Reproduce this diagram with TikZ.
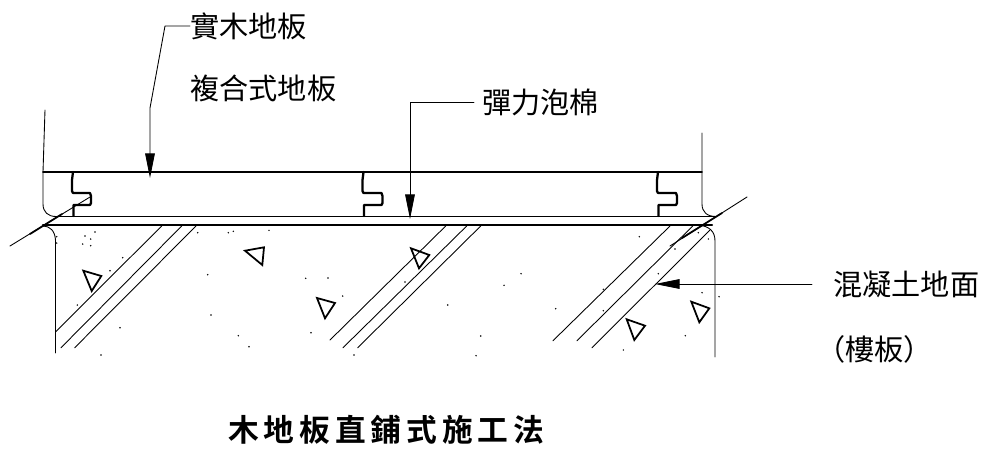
\documentclass[tikz,border=0pt]{standalone}
\usepackage{fontspec}
\usetikzlibrary{arrows.meta}
\newfontfamily\labelfont{Noto Sans CJK TC}
\newfontfamily\titlefont[LetterSpace=16]{Noto Sans CJK TC Bold}
\tikzset{
  thinline/.style={line width=.5pt},
  boardline/.style={line width=1pt},
  jointline/.style={line width=1.3pt,line join=round},
  leader/.style={line width=.5pt,-{Triangle[length=14pt,width=5.5pt]}},
  stone/.style={line width=1pt,line join=miter},
  callout/.style={font=\labelfont\fontsize{16.6}{20}\selectfont,inner sep=0pt,anchor=west},
  heading/.style={font=\titlefont\fontsize{17.5}{20}\selectfont,inner sep=0pt,anchor=west}
}
\begin{document}
\begin{tikzpicture}[x=.02cm,y=-.02cm,line join=round,line cap=round]
  \useasboundingbox (0,0) rectangle (982,450);
  % wood floor
  \draw[thinline] (45,110)--(43,172);
  \draw[boardline] (43,172)--(702,172);
  \draw[thinline] (43,172)--(43,204) .. controls (43,212) and (48,216.5) .. (56,216.5);
  \draw[boardline] (56,216.5)--(716,216.5);
  \draw[thinline] (702,133)--(702,204) .. controls (702,212) and (707,216.5) .. (716,216.5);
  \draw[line width=1.2pt] (43,225)--(712,225);
  % tongue and groove
  \foreach \jx/\tw in {73/18,363.5/19,658/19}
    \draw[jointline] (\jx,172)--(\jx-1,180)--(\jx-1,191)--(\jx,193)--(\jx+\tw-1,193)--(\jx+\tw,196)--(\jx+\tw,203)--(\jx+\tw-1,205)--(\jx+.5,205)--(\jx+.5,216);
  % break lines
  \draw[thinline] (10,246)--(90,197);
  \draw[line width=1pt] (30,234)--(62,214);
  \draw[thinline] (670,246)--(747,197);
  \draw[line width=1pt] (682,238)--(722,213);
  % concrete edges
  \draw[thinline] (43,226) .. controls (50,226) and (55,231) .. (55.5,240)--(55.5,353);
  \draw[thinline] (698,225) .. controls (709,226) and (715,231) .. (715,241)--(715,357);
  % hatching
  \foreach \ax/\ay/\bx/\by in {161.7/226/55.7/331.7,181.7/226/61/347.7,196/226/74.7/347.7,
      445.7/226/330/340,466.7/226/343/347.7,480.7/226/357.7/347.7,
      670/226/553/340.7,692.7/226/577/340.7,710/230/592/347.7}
    \draw[thinline] (\ax,\ay)--(\bx,\by);
  % aggregate
  \foreach \ax/\ay/\bx/\by/\cx/\cy in {83.3/270.7/101.3/276/91.7/291,245/250.7/264/247.3/262.3/265,
      317/298/335/303/325/318.3,411/248.3/429.3/255/419/268.3,
      626.7/319.3/645/325.7/634.3/340,691.3/301.7/709.3/308.3/699.3/322.3}
    \draw[stone] (\ax,\ay)--(\bx,\by)--(\cx,\cy)--cycle;
  \foreach \px/\py in {95/232,85/236,90.7/239,82.7/244,90.7/245.7,122.7/257.7,110/270.7,77.3/305,
      120/327.7,101/355,197.7/232.7,228.3/232.7,233.3/231.3,269/230.3,207.7/274.7,305.7/278.3,
      328/278,211/315,238.3/335.7,311/332.7,249/346.7,56.7/236.7,56.7/243,342.7/296,405/282,
      447.7/305,504/285.3,521/273.7,480.7/336,354/355,476/355.7,555.7/308.7,603.3/289.3,
      603.3/310.7,639.3/236.7,658.3/273.7,675/249,698.3/232.7,708.3/239,702/292.7,719/296.7,
      685.3/335.7,623.3/350}
    \fill (\px,\py) circle(.8);
  % labels
  \node[callout] (solidwood) at (190,26) {實木地板};
  \node[callout] (composite) at (190,88) {複合式地板};
  \node[callout] (foam) at (482,102) {彈力泡棉};
  \node[callout] (concrete) at (833,284) {混凝土地面};
  \node[callout] (slab) at (816,349) {（樓板）};
  \node[heading] (title) at (228,430) {木地板直鋪式施工法};
  % leaders
  \coordinate (woodbend) at (165,26);
  \coordinate (woodkink) at (150,108);
  \coordinate (woodtip) at (150,178);
  \coordinate (foambend) at (410,102);
  \coordinate (foamtip) at (410,219);
  \coordinate (concretetip) at (655,284);
  \draw[leader] (solidwood.west)--(woodbend)--(woodkink)--(woodtip);
  \draw[leader] (foam.west)++(-8,0)--(foambend)--(foamtip);
  \draw[leader] (concrete.west)++(-21,0)--(concretetip);
\end{tikzpicture}
\end{document}
